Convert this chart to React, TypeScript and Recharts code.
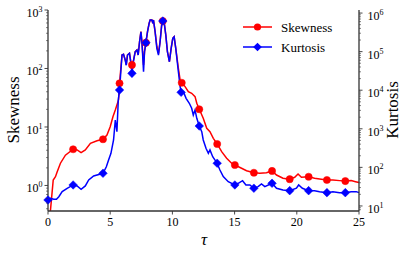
import { LineChart, Line, XAxis, YAxis } from 'recharts'

// skewness (left log axis)
const skewTau = [0, 0.2, 0.42, 0.6, 0.74, 1.0, 1.4, 2.02, 2.34, 2.66, 3.0, 3.41, 3.94, 4.42, 4.74, 5.0, 5.22, 5.41, 5.54, 5.67, 5.75, 5.95, 6.07, 6.21, 6.29, 6.39, 6.55, 6.67, 6.75, 6.88, 7.01, 7.15, 7.25, 7.36, 7.47, 7.55, 7.68, 7.76, 7.87, 8.0, 8.13, 8.21, 8.35, 8.43, 8.48, 8.61, 8.75, 8.88, 9.01, 9.15, 9.23, 9.33, 9.47, 9.6, 9.76, 9.9, 10.03, 10.14, 10.27, 10.48, 10.62, 10.75, 11.02, 11.28, 11.55, 11.82, 11.96, 12.16, 12.48, 12.76, 13.02, 13.29, 13.6, 13.96, 14.36, 14.76, 15.02, 15.56, 15.96, 16.55, 17.03, 17.56, 18.01, 18.37, 18.89, 19.43, 19.83, 20.1, 20.37, 20.95, 21.43, 21.97, 22.42, 22.9, 23.44, 23.9, 24.37, 24.72, 25]
const skewness = [0.2, 0.38, 1.24, 1.41, 1.72, 2.4, 3.3, 4.16, 4.05, 3.64, 4.05, 5.26, 5.83, 6.17, 7.3, 10.1, 15, 19.5, 23.8, 29, 55.8, 170, 175, 140, 115, 170, 182, 123, 115, 140, 194, 207, 170, 287, 426, 287, 115, 194, 276, 426, 593, 675, 675, 593, 675, 426, 240, 180, 287, 593, 649, 631, 374, 194, 131, 221, 328, 350, 221, 101, 64, 57, 49, 40, 37.7, 33, 25.4, 20.1, 14.1, 9.5, 8.3, 6.4, 5.12, 3.78, 2.92, 2.4, 2.24, 1.97, 1.79, 1.65, 1.62, 1.65, 1.77, 1.51, 1.33, 1.28, 1.38, 1.57, 1.38, 1.41, 1.33, 1.28, 1.24, 1.24, 1.21, 1.19, 1.21, 1.16, 1.12]
const skewMarks = [2.02, 4.42, 5.75, 6.75, 7.87, 9.23, 10.75, 12.16, 13.6, 15.02, 16.55, 18.01, 19.43, 20.95, 22.42, 23.9]

// kurtosis (right log axis)
const kurtTau = [0, 0.2, 0.46, 0.68, 0.87, 1.14, 1.54, 2.02, 2.34, 2.66, 3.0, 3.27, 3.67, 4.42, 4.69, 4.87, 5.06, 5.27, 5.41, 5.54, 5.65, 5.75,
  5.95, 6.07, 6.21, 6.29, 6.39, 6.55, 6.67, 6.75, 6.88, 7.01, 7.15, 7.25, 7.36, 7.47, 7.55, 7.68, 7.76, 7.87, 8.0, 8.13, 8.21, 8.35, 8.43, 8.48, 8.61, 8.75, 8.88, 9.01, 9.15, 9.23, 9.33, 9.47, 9.6, 9.76, 9.9, 10.03, 10.14, 10.27, 10.48,
  10.62, 10.7, 10.88, 11.1, 11.36, 11.55, 11.68, 11.82, 11.96, 12.16, 12.36, 12.48, 12.7, 12.89, 13.02, 13.24, 13.6, 13.82, 14.09, 14.49, 15.02, 15.29, 15.64, 15.91, 16.23, 16.55, 16.89, 17.16, 17.43, 18.01, 18.37, 18.89, 19.43, 19.97, 20.15, 20.45, 20.95, 21.43, 21.83, 22.42, 22.9, 23.44, 23.9, 24.37, 24.78, 25]
const kurtosis = [14.3, 15.8, 14.9, 14.9, 17.4, 23.5, 28.7, 35, 33, 27.1, 33, 47.2, 59.8, 70.3, 104, 156, 232, 513, 1690, 841, 5570, 10100,
  81600, 85100, 59800, 44400, 81600, 90400, 49800, 27400, 59800, 99300, 110000, 81600, 180000, 328000, 180000, 30100, 99300, 170000, 328000, 541000, 659000, 659000, 541000, 659000, 328000, 122000, 81600, 180000, 541000, 621000, 595000, 269000, 99300, 54700, 122000, 221000, 243000, 122000, 30100,
  12300, 8840, 9150, 6170, 4580, 3400, 2280, 3070, 1870, 1180, 841, 513, 312, 232, 283, 189, 128, 85.6, 57.5, 42.6, 35, 38.7, 45.2, 35, 35, 28.8, 31.6, 37.1, 31.6, 38.7, 28.8, 26, 24.9, 28.8, 35, 28.8, 24.9, 24.9, 23.5, 22.1, 23.5, 22.1, 22.1, 23.5, 23.5, 22.1]
const kurtMarks = [0, 2.02, 4.42, 5.75, 6.75, 7.87, 9.23, 10.7, 12.16, 13.6, 15.02, 16.55, 18.01, 19.43, 20.95, 22.42, 23.9]

const xTicks = [0, 5, 10, 15, 20, 25]
const leftDecades = [0.1, 1, 10, 100, 1000]
const rightDecades = [1, 10, 100, 1000, 10000, 100000, 1000000]
const leftDomain = [0.366, 1000]
const rightDomain = [7.4, 1200000]

const skewData = skewTau.map((tau, i) => ({ tau, v: skewness[i], mark: skewMarks.includes(tau) }))
const kurtData = kurtTau.map((tau, i) => ({ tau, v: kurtosis[i], mark: kurtMarks.includes(tau) }))

const withMinor = (decades: number[], [lo, hi]: number[]) =>
  decades.flatMap((d) => [1, 2, 3, 4, 5, 6, 7, 8, 9].map((m) => m * d)).filter((v) => v >= lo && v <= hi)

const FONT = 'Liberation Serif, Times New Roman, serif'
const FRAME = '#333'
const RED = '#ff0000'
const BLUE = '#0000ff'
const txt = { fontFamily: FONT }

function isDecade(v: number) {
  const l = Math.log10(v)
  return Math.abs(l - Math.round(l)) < 1e-6
}

function LogTick({ x, y, payload, side }: any) {
  const v = payload.value
  const major = isDecade(v)
  const len = major ? 3.5 : 2
  const dir = side === 'left' ? -1 : 1
  const e = Math.round(Math.log10(v))
  return (
    <g>
      <line x1={x} x2={x + dir * len} y1={y} y2={y} stroke={FRAME} strokeWidth={major ? 0.9 : 0.6} />
      {major && (
        <text
          x={side === 'left' ? x - 5.5 : x + 8.5}
          y={y + 7}
          textAnchor={side === 'left' ? 'end' : 'start'}
          style={txt}
          fontSize={12}
          fill="#000"
        >
          10<tspan dy={-5} fontSize={8}>{e}</tspan>
        </text>
      )}
    </g>
  )
}

function XTick({ x, y, payload }: any) {
  return (
    <g>
      <line x1={x} x2={x} y1={y} y2={y + 3.5} stroke={FRAME} strokeWidth={0.9} />
      <text x={x} y={y + 15} textAnchor="middle" style={txt} fontSize={12} fill="#000">
        {payload.value}
      </text>
    </g>
  )
}

function circleDot(p: any) {
  if (!p.payload.mark) return <g key={p.index} />
  return <circle key={p.index} cx={p.cx} cy={p.cy} r={3.6} fill={RED} stroke={RED} strokeWidth={0.5} />
}

function diamondDot(p: any) {
  if (!p.payload.mark) return <g key={p.index} />
  const s = 4.3
  return (
    <polygon
      key={p.index}
      points={`${p.cx},${p.cy - s} ${p.cx + s},${p.cy} ${p.cx},${p.cy + s} ${p.cx - s},${p.cy}`}
      fill={BLUE}
      stroke={BLUE}
      strokeWidth={0.5}
    />
  )
}

export default function App() {
  return (
    <div style={{ position: 'absolute', left: 0, top: 0, width: 407, height: 254, background: '#fff' }}>
      <LineChart width={407} height={254} margin={{ top: 10, right: 0, bottom: 0, left: 0 }}>
        <XAxis
          xAxisId="bottom"
          dataKey="tau"
          type="number"
          domain={[0, 25]}
          ticks={xTicks}
          height={43}
          tickSize={0}
          tickMargin={0}
          tickLine={false}
          axisLine={{ stroke: FRAME, strokeWidth: 1.3 }}
          tick={(p: any) => <XTick {...p} />}
        />
        <XAxis
          xAxisId="top"
          orientation="top"
          dataKey="tau"
          type="number"
          domain={[0, 25]}
          height={0}
          tick={false}
          tickLine={false}
          axisLine={{ stroke: FRAME, strokeWidth: 1.3 }}
        />
        <YAxis
          yAxisId="s"
          scale="log"
          type="number"
          domain={leftDomain}
          allowDataOverflow
          ticks={withMinor(leftDecades, leftDomain)}
          interval={0}
          width={48}
          tickSize={0}
          tickMargin={0}
          tickLine={false}
          axisLine={{ stroke: FRAME, strokeWidth: 1.3 }}
          tick={(p: any) => <LogTick {...p} side="left" />}
        />
        <YAxis
          yAxisId="k"
          orientation="right"
          scale="log"
          type="number"
          domain={rightDomain}
          allowDataOverflow
          ticks={withMinor(rightDecades, rightDomain)}
          interval={0}
          width={48}
          tickSize={0}
          tickMargin={0}
          tickLine={false}
          axisLine={{ stroke: FRAME, strokeWidth: 1.3 }}
          tick={(p: any) => <LogTick {...p} side="right" />}
        />
        <Line
          xAxisId="bottom"
          yAxisId="s"
          data={skewData}
          dataKey="v"
          type="linear"
          stroke={RED}
          strokeWidth={1.5}
          dot={circleDot}
          activeDot={false}
          isAnimationActive={false}
        />
        <Line
          xAxisId="bottom"
          yAxisId="k"
          data={kurtData}
          dataKey="v"
          type="linear"
          stroke={BLUE}
          strokeWidth={1.5}
          dot={diamondDot}
          activeDot={false}
          isAnimationActive={false}
        />
      </LineChart>
      <svg width={407} height={254} style={{ position: 'absolute', left: 0, top: 0, pointerEvents: 'none' }}>
        <g style={txt} fill="#000">
          <line x1={243} x2={272} y1={27} y2={27} stroke={RED} strokeWidth={1.5} />
          <circle cx={257.5} cy={27} r={3.6} fill={RED} />
          <text x={281} y={31.5} fontSize={13}>Skewness</text>
          <line x1={243} x2={272} y1={47} y2={47} stroke={BLUE} strokeWidth={1.5} />
          <polygon points="257.5,42.7 261.8,47 257.5,51.3 253.2,47" fill={BLUE} />
          <text x={281} y={51.5} fontSize={13}>Kurtosis</text>
          <text transform="translate(19,110) rotate(-90)" textAnchor="middle" fontSize={17}>Skewness</text>
          <text transform="translate(398,110) rotate(-90)" textAnchor="middle" fontSize={17}>Kurtosis</text>
          <text x={204} y={245} textAnchor="middle" fontSize={17} fontStyle="italic">τ</text>
        </g>
      </svg>
    </div>
  )
}
